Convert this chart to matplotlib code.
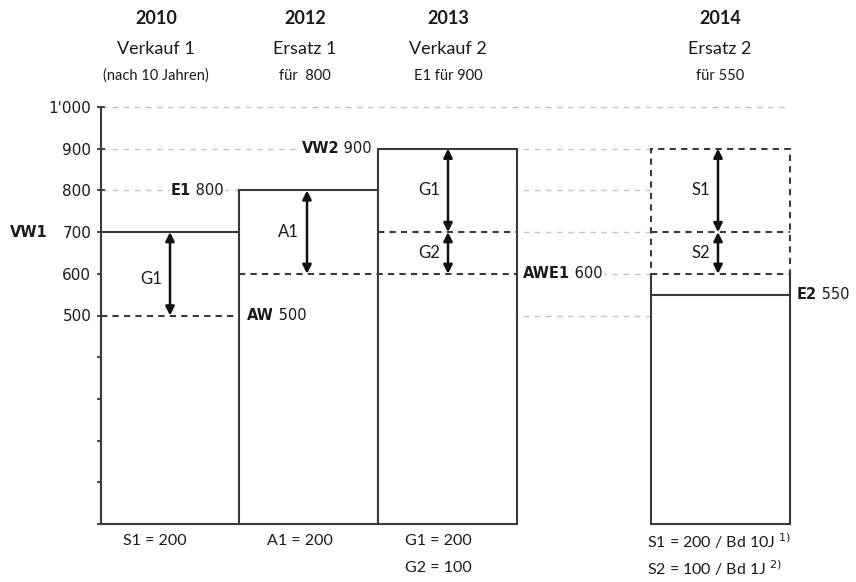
"""
Verkauf / Ersatz diagram: sale values, replacement costs and hidden reserves.
"""
import matplotlib
matplotlib.use("Agg")
import matplotlib.pyplot as plt
import matplotlib.transforms as mtransforms

# --- data ---------------------------------------------------------------
YEARS = ["2010", "2012", "2013", "2014"]
TITLES = ["Verkauf 1", "Ersatz 1", "Verkauf 2", "Ersatz 2"]
SUBTITLES = ["(nach 10 Jahren)", "für  800", "E1 für 900", "für 550"]
BAR_VALUES = [700, 800, 900, 550]          # VW1, E1, VW2, E2
BAR4_TOP = 900                              # dashed frame of Ersatz 2
BAR4_BASE = 600                             # AWE1
Y_TICKS = [0, 100, 200, 300, 400, 500, 600, 700, 800, 900, 1000]
Y_TICK_LABELS = ["", "", "", "", "", "500", "600", "700", "800", "900", "1'000"]
GRID_LEVELS = [500, 600, 700, 800, 900, 1000]

# value labels: (bold part, value)
VALUE_LABELS = [("VW1", 700), ("E1", 800), ("AW", 500), ("VW2", 900),
                ("AWE1", 600), ("E2", 550)]

# arrows: (bar index, label, from, to)
ARROWS = [(0, "G1", 700, 500), (1, "A1", 800, 600), (2, "G1", 900, 700),
          (2, "G2", 700, 600), (3, "S1", 900, 700), (3, "S2", 700, 600)]

# dashed reference lines inside bars: (value, first bar, last bar)
INNER_LINES = [(500, 0, 0), (600, 1, 2), (700, 2, 2), (700, 3, 3)]

BOTTOM_LINES = [["S1 = 200"], ["A1 = 200"], ["G1 = 200", "G2 = 100"],
                ["S1 = 200 / Bd 10J $^{1)}$", "S2 = 100 / Bd 1J $^{2)}$"]]

# --- layout -------------------------------------------------------------
W, H = 856, 582
BAR_LEFT = [101, 239, 378, 651]
BAR_W = 139
ARROW_X = [170, 307, 448, 718]
HEAD_X = [156, 305, 448, 720]
EDGE = "#3a3a3a"
GRID = "#c4c4c4"
TXT = "#1a1a1a"
HEAD_FONT = "Lato"
TICK_FONT = "DejaVu Sans"

fig = plt.figure(figsize=(W / 100, H / 100), dpi=100)
ax = fig.add_axes([0, 0, 1, 1])
ax.set_xlim(0, W)
# 0 sits at pixel row 524, 1000 at row 107
px_per_unit = (524 - 107) / 1000
ax.set_ylim(-(H - 524) / px_per_unit, 524 / px_per_unit)

for s in ["top", "right", "bottom"]:
    ax.spines[s].set_visible(False)
ax.spines["left"].set_position(("data", BAR_LEFT[0]))
ax.spines["left"].set_bounds(0, 1000)
ax.spines["left"].set_color(EDGE)
ax.spines["left"].set_linewidth(1.5)
ax.set_xticks([])
ax.set_yticks(Y_TICKS)
ax.set_yticklabels(Y_TICK_LABELS, fontfamily=TICK_FONT, fontsize=11, color=TXT)
ax.tick_params(axis="y", direction="inout", length=6, width=1.3,
               color=EDGE, pad=4)

# light dashed grid behind bars
ax.hlines(GRID_LEVELS, BAR_LEFT[0], BAR_LEFT[3] + BAR_W, colors=GRID,
          linestyles=(0, (4, 4)), lw=1, zorder=0)

# solid bars 1-3
ax.bar(BAR_LEFT[:3], BAR_VALUES[:3], width=BAR_W, align="edge",
       facecolor="white", edgecolor=EDGE, lw=1.5, zorder=2)

# Ersatz 2: white backing, solid lower part, dashed frame on top
x4 = BAR_LEFT[3]
ax.bar([x4], [BAR4_TOP], width=BAR_W, align="edge",
       facecolor="white", edgecolor="none", zorder=2)
ax.bar([x4], [BAR_VALUES[3]], width=BAR_W, align="edge",
       facecolor="white", edgecolor=EDGE, lw=1.5, zorder=3)
ax.vlines([x4, x4 + BAR_W], BAR_VALUES[3], BAR4_BASE, colors=EDGE,
          lw=1.5, zorder=3)
ax.bar([x4], [BAR4_TOP - BAR4_BASE], bottom=[BAR4_BASE], width=BAR_W,
       align="edge", facecolor="none", edgecolor=EDGE, lw=1.5,
       linestyle=(0, (3, 2.5)), zorder=3)

for val, b0, b1 in INNER_LINES:
    ax.hlines(val, BAR_LEFT[b0], BAR_LEFT[b1] + BAR_W, colors=EDGE,
              linestyles=(0, (3, 2.5)), lw=1.5, zorder=3)

# arrows
for bi, lab, y0, y1 in ARROWS:
    x = ARROW_X[bi]
    ax.annotate("", xy=(x, y1), xytext=(x, y0),
                arrowprops=dict(arrowstyle="<|-|>", color="#111111", lw=1.8,
                                mutation_scale=13, shrinkA=0, shrinkB=0),
                zorder=4)
    ax.text(x - 8, (y0 + y1) / 2 + (-12 if bi == 0 else 0), lab,
            ha="right", va="center", fontfamily=HEAD_FONT, fontsize=12,
            color=TXT, zorder=5)

# value labels
label_pos = {"VW1": (10, "left"), "E1": (224, "right"), "AW": (247, "left"),
             "VW2": (372, "right"), "AWE1": (523, "left"), "E2": (797, "left")}
for name, val in VALUE_LABELS:
    x, ha = label_pos[name]
    kw = dict(va="center", fontsize=10.5, color=TXT, zorder=6,
              fontfamily=TICK_FONT)
    bb = dict(facecolor="white", edgecolor="none", pad=1)
    if name == "VW1":
        ax.text(x, val, name, ha="left", fontweight="bold", **kw)
    elif ha == "left":
        t = ax.text(x, val, name, ha="left", fontweight="bold", bbox=bb, **kw)
        ax.annotate(f" {val}", xy=(1, 0.5), xycoords=t, ha="left",
                    va="center", fontsize=10.5, color=TXT,
                    fontfamily=TICK_FONT, zorder=6, bbox=bb)
    else:
        t = ax.text(x, val, f" {val}", ha="right", bbox=bb, **kw)
        ax.annotate(name, xy=(0, 0.5), xycoords=t, ha="right", va="center",
                    fontsize=10.5, color=TXT, fontfamily=TICK_FONT,
                    fontweight="bold", zorder=6, bbox=bb)

# headers
trans = mtransforms.blended_transform_factory(ax.transData, ax.transAxes)
for i in range(4):
    x = HEAD_X[i]
    ax.text(x, 1 - 18 / H, YEARS[i], transform=trans, ha="center",
            va="center", fontfamily=HEAD_FONT, fontweight="bold",
            fontsize=13, color=TXT)
    ax.text(x, 1 - 49 / H, TITLES[i], transform=trans, ha="center",
            va="center", fontfamily=HEAD_FONT, fontsize=13, color=TXT)
    ax.text(x, 1 - 76 / H, SUBTITLES[i], transform=trans, ha="center",
            va="center", fontfamily=HEAD_FONT, fontsize=10.5, color=TXT)

# bottom notes
bottom_x = [155, 300, 438, 647]
for i, lines in enumerate(BOTTOM_LINES):
    for j, line in enumerate(lines):
        ax.text(bottom_x[i], 1 - (541 + 27 * j) / H, line, transform=trans,
                ha="left" if i == 3 else "center", va="center",
                fontfamily=HEAD_FONT, fontsize=11.5, color=TXT)

fig.savefig("out.png", dpi=100)
